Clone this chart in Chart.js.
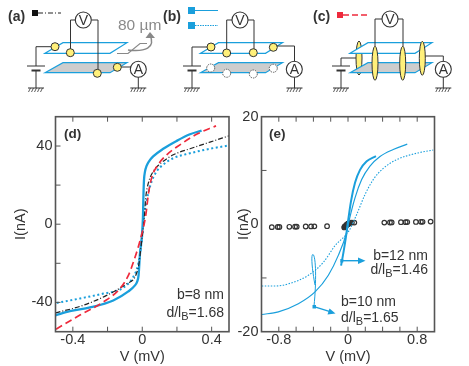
<!DOCTYPE html>
<html>
<head>
<meta charset="utf-8">
<script src="https://cdn.jsdelivr.net/npm/chart.js@4"></script>
<style>
  html, body { margin: 0; padding: 0; background: #fff; overflow: hidden; }
  body { width: 469px; height: 366px; position: relative; }
  canvas { position: absolute; }
  #chartD { left: 0; top: 105px; }
  #chartE { left: 235px; top: 105px; }
  svg { position: absolute; left: 0; top: 0; pointer-events: none; font-family: "Liberation Sans", Arial, sans-serif; }
</style>
</head>
<body>
<canvas id="chartD" width="235" height="261"></canvas>
<canvas id="chartE" width="234" height="261"></canvas>
<svg id="overlay" width="469" height="366"></svg>
<script>
// Panel (d) curves
const dSolidV = [-0.5, -0.417, -0.301, -0.167, -0.08, -0.042, -0.03, -0.021, -0.013, -0.003, 0.004, 0.007, 0.01, 0.016, 0.025, 0.04, 0.063, 0.121, 0.198, 0.275, 0.342];
const dSolidI = [-46.6, -44.5, -42.6, -39, -34.4, -31.3, -29.5, -26, -15, -6.8, 3.4, 15.2, 22.5, 27, 29.8, 32.3, 34.7, 38.6, 42.6, 46, 47.9];
const dDashDotV = [-0.5, -0.34, -0.205, -0.09, -0.042, -0.019, -0.0075, 0.012, 0.02, 0.035, 0.063, 0.102, 0.179, 0.275, 0.39, 0.5];
const dDashDotI = [-45.4, -41.5, -36.4, -30.5, -27, -20.3, -11.9, 3.4, 13.5, 21, 27, 30.8, 35.5, 38.6, 42, 45.2];
const dDottedV = [-0.493, -0.359, -0.225, -0.119, -0.052, -0.023, -0.003, 0.01, 0.025, 0.048, 0.083, 0.121, 0.179, 0.275, 0.39, 0.5];
const dDottedI = [-40.3, -38, -35.5, -33, -27, -20.3, -8.5, 3.4, 11.8, 20.3, 27, 30.5, 33.8, 36.3, 38.6, 40.3];
const dDashedV = [-0.497, -0.359, -0.225, -0.129, -0.08, -0.042, -0.013, 0.021, 0.035, 0.054, 0.092, 0.141, 0.217, 0.313, 0.425];
const dDashedI = [-53.7, -46.5, -39.8, -33, -26.2, -17, -8.5, 5, 15.2, 23.7, 30.5, 35.5, 40.6, 46, 50.3];

// Panel (e) curves
const eThickV = [-0.08, -0.05, -0.025, 0, 0.035, 0.081, 0.139, 0.216, 0.323];
const eThickI = [-7.7, -5, -2.5, 0.5, 4.3, 7.7, 10.1, 11.7, 12.66];
const eThinV = [-0.997, -0.805, -0.574, -0.381, -0.227, -0.112, -0.015, 0.012, 0.081, 0.158, 0.254, 0.37, 0.523, 0.685];
const eThinI = [-16.8, -16.3, -14.8, -12.6, -9.5, -5.8, -1.5, 0.6, 4.9, 8.3, 10.8, 12.6, 13.9, 14.9];
const eDottedV = [-0.997, -0.843, -0.689, -0.458, -0.285, -0.15, 0.012, 0.1, 0.196, 0.292, 0.408, 0.562, 0.793, 0.985];
const eDottedI = [-11.5, -11.5, -11.1, -9.5, -7.1, -4, -1.2, 1.8, 5.5, 8.3, 10.4, 12, 13.2, 13.8];
const eCircleV = [-0.881, -0.812, -0.793, -0.678, -0.612, -0.593, -0.489, -0.427, -0.389, -0.242,
  -0.043, -0.04, -0.035, -0.03, -0.025, -0.02, -0.015, -0.01, -0.005, 0, 0.005, 0.01, 0.015, 0.023, 0.045, 0.073,
  0.42, 0.485, 0.505, 0.612, 0.666, 0.685, 0.785, 0.843, 0.862, 0.955];
const eCircleI = [-0.55, -0.52, -0.52, -0.48, -0.46, -0.46, -0.43, -0.41, -0.4, -0.37,
  -0.6, -0.5, -0.4, -0.35, -0.3, -0.2, -0.1, -0.05, 0, 0.05, 0.1, 0.15, 0.2, 0.3, 0.3, 0.3,
  0.3, 0.32, 0.33, 0.37, 0.38, 0.4, 0.42, 0.45, 0.45, 0.48];

// Ticks and labels
const dXTicks = [-0.4, -0.2, 0, 0.2, 0.4];
const dXLabels = ['-0.4', '', '0', '', '0.4'];
const dYTicks = [-40, -20, 0, 20, 40];
const dYLabels = ['-40', '', '0', '', '40'];
const eXTicks = [-0.8, -0.6, -0.4, -0.2, 0, 0.2, 0.4, 0.6, 0.8];
const eXLabels = ['-0.8', '', '', '', '0', '', '', '', '0.8'];
const eYTicks = [-20, -10, 0, 10, 20];
const eYLabels = ['-20', '', '0', '', '20'];

const BLUE = '#1a9fdc', RED = '#ee2a3c', INK = '#333', FRAME = '#555';
const FONT = '"Liberation Sans", Arial, sans-serif';

const pts = (xs, ys) => xs.map((x, i) => ({x: x, y: ys[i]}));

// inward ticks and the frame, placed through the scales
const frameTicks = {
  id: 'frameTicks',
  afterDraw(chart) {
    const {ctx, chartArea: a, scales} = chart;
    ctx.save();
    ctx.strokeStyle = FRAME;
    ctx.lineWidth = 1;
    ctx.beginPath();
    scales.x.ticks.forEach(t => {
      const px = scales.x.getPixelForValue(t.value);
      ctx.moveTo(px, a.bottom); ctx.lineTo(px, a.bottom - 5);
      ctx.moveTo(px, a.top); ctx.lineTo(px, a.top + 5);
    });
    scales.y.ticks.forEach(t => {
      if (t.value === scales.y.max || t.value === scales.y.min || t.value === 0 && chart.canvas.id === 'chartE') return;
      const py = scales.y.getPixelForValue(t.value);
      ctx.moveTo(a.left, py); ctx.lineTo(a.left + 5, py);
    });
    ctx.stroke();
    ctx.lineWidth = 1.6;
    ctx.strokeRect(a.left, a.top, a.right - a.left, a.bottom - a.top);
    ctx.restore();
  }
};

function makeChart(id, datasets, o) {
  return new Chart(document.getElementById(id), {
    type: 'scatter',
    data: {datasets: datasets},
    plugins: [frameTicks],
    options: {
      responsive: false,
      animation: false,
      layout: {padding: {top: 10, right: o.right, left: 0, bottom: 0}},
      plugins: {legend: {display: false}, tooltip: {enabled: false}},
      scales: {
        x: {
          type: 'linear', min: o.xMin, max: o.xMax,
          grid: {display: false, drawTicks: false}, border: {display: false},
          afterBuildTicks: s => { s.ticks = o.xTicks.map(v => ({value: v})); },
          afterFit: s => { s.height = 34.3; },
          ticks: {
            autoSkip: false, maxRotation: 0, padding: 0, color: INK, font: {family: FONT, size: 14.5},
            callback: v => o.xLabels[o.xTicks.indexOf(v)]
          },
          title: {display: true, text: 'V (mV)', color: INK, font: {family: FONT, size: 14.5}, padding: {top: 4, bottom: 0}}
        },
        y: {
          type: 'linear', min: o.yMin, max: o.yMax,
          grid: {display: false, drawTicks: false}, border: {display: false},
          afterBuildTicks: s => { s.ticks = o.yTicks.map(v => ({value: v})); },
          afterFit: s => { s.width = o.axisW; },
          ticks: {
            autoSkip: false, padding: 3, color: INK, font: {family: FONT, size: 14.5},
            callback: v => o.yLabels[o.yTicks.indexOf(v)]
          },
          title: {display: true, text: 'I(nA)', color: INK, font: {family: FONT, size: 14.5}, padding: {top: o.titlePad, bottom: 0}}
        }
      }
    }
  });
}

const line = (xs, ys, color, width, dash) => ({
  data: pts(xs, ys), showLine: true, pointRadius: 0, borderColor: color, borderWidth: width,
  borderDash: dash || [], cubicInterpolationMode: 'monotone', fill: false
});

makeChart('chartD', [
  line(dDashedV, dDashedI, RED, 1.7, [7, 4]),
  line(dDashDotV, dDashDotI, '#222', 1.2, [5, 2, 1, 2]),
  line(dSolidV, dSolidI, BLUE, 2.3),
  line(dDottedV, dDottedI, BLUE, 2, [2, 2.6])
], {xMin: -0.5, xMax: 0.5, yMin: -55, yMax: 55, xTicks: dXTicks, xLabels: dXLabels, yTicks: dYTicks, yLabels: dYLabels, axisW: 55.5, right: 6, titlePad: 12.5});

makeChart('chartE', [
  line(eThickV, eThickI, BLUE, 2),
  line(eThinV, eThinI, BLUE, 1.2),
  line(eDottedV, eDottedI, BLUE, 1.1, [1.5, 1.5]),
  {data: pts(eCircleV, eCircleI), pointRadius: 2.3, pointBorderWidth: 1.2, pointBorderColor: '#333', pointBackgroundColor: 'rgba(255,255,255,0)'}
], {xMin: -1, xMax: 1, yMin: -20, yMax: 20, xTicks: eXTicks, xLabels: eXLabels, yTicks: eYTicks, yLabels: eYLabels, axisW: 26.5, right: 34.5, titlePad: 0});

// Circuit sketches and annotations
const YEL = '#fff07a', WIRE = '#333';
let s = '';
const path = (d, stroke, w, extra) => `<path d="${d}" fill="none" stroke="${stroke}" stroke-width="${w}" ${extra || ''}/>`;
const txt = (x, y, str, size, extra) => `<text x="${x}" y="${y}" font-size="${size}" fill="${INK}" ${extra || ''}>${str}</text>`;
const dot = (x, y) => `<circle cx="${x}" cy="${y}" r="4" fill="${YEL}" stroke="${WIRE}" stroke-width="1"/>`;
const ghost = (x, y) => `<circle cx="${x}" cy="${y}" r="4" fill="#fff" stroke="#555" stroke-width="1" stroke-dasharray="1.5 1"/>`;
const oval = (x, y) => `<ellipse cx="${x}" cy="${y}" rx="3" ry="17" fill="${YEL}" stroke="${WIRE}" stroke-width="1"/>`;
const meter = (x, y, c) => `<circle cx="${x}" cy="${y}" r="8" fill="#fff" stroke="${WIRE}" stroke-width="1.1"/>` +
  txt(x, y + 5, c, 14, 'text-anchor="middle"');
function plates(x) {
  return `<path d="M${x} 53.3 L${x + 18} 42.7 H${x + 82} L${x + 65} 53.3 Z" fill="#fff" stroke="${BLUE}" stroke-width="1.2"/>` +
    `<path d="M${x} 72.7 L${x + 18} 62.7 H${x + 82} L${x + 65} 72.7 Z" fill="#cdcdcd" stroke="${BLUE}" stroke-width="1.2"/>`;
}
function ground(x) {
  let g = path(`M${x - 8} 88 H${x + 8}`, WIRE, 1);
  for (let i = -7; i <= 6; i += 3) g += path(`M${x + i + 1.5} 88 L${x + i - 0.5} 92`, WIRE, 0.8);
  return g;
}
function battery(x, yTop) {
  return path(`M${x} ${yTop} V66 M${x} 70 V88`, WIRE, 1) + path(`M${x - 9} 66 H${x + 9}`, WIRE, 1) +
    path(`M${x - 4.5} 70.5 H${x + 4.5}`, WIRE, 2) + ground(x);
}

// (a)
s += txt(8, 21, '(a)', 14, 'font-weight="bold"');
s += `<rect x="32" y="10" width="6" height="6" fill="#111"/>` + path('M38 13 H61', '#222', 1, 'stroke-dasharray="5 2 1 2"');
s += plates(45);
s += path('M55 46.7 H36', WIRE, 1) + battery(36, 46.7);
s += path('M75 20 H70.5 V52.7 M91.5 20 H98 V73', WIRE, 1) + path('M117 67 H138.3 V88', WIRE, 1) + ground(138.3);
s += dot(55, 46.7) + dot(70.3, 52.7) + dot(97.3, 73.3) + dot(117.3, 67.3);
s += meter(83.3, 20, 'V') + meter(138.3, 69.3, 'A');
s += `<text x="118" y="30" font-size="15.5" fill="#8a8a8a">80 µm</text>`;
s += path('M117 53.5 H128 L140 43.5 H147', '#888', 1.2);
s += path('M128 50 C145 52 156 48 150 35', '#888', 1.5) + '<path d="M150 32 L145.5 38 L155 38 Z" fill="#888"/>';

// (b)
s += txt(163, 21, '(b)', 14, 'font-weight="bold"');
s += `<rect x="188" y="7" width="7" height="7" fill="${BLUE}"/>` + path('M195 10.5 H218', BLUE, 1);
s += `<rect x="188" y="22" width="7" height="7" fill="${BLUE}"/>` + path('M195 25.5 H218', BLUE, 1, 'stroke-dasharray="1.5 1"');
s += plates(200.5);
s += path('M211 47 H192', WIRE, 1) + battery(192, 47);
s += path('M232 20 H226.7 V53 M248 20 H254 V53', WIRE, 1) + path('M273 46 H294.5 V88', WIRE, 1) + ground(294.5);
s += dot(211, 47) + dot(226.7, 53) + dot(253.3, 52.7) + dot(273.3, 47.3);
s += ghost(210.7, 68) + ghost(226.7, 73.3) + ghost(253.3, 74) + ghost(273.3, 68.3);
s += meter(240, 20, 'V') + meter(294.3, 69.3, 'A');

// (c)
s += txt(313, 21, '(c)', 14, 'font-weight="bold"');
s += `<rect x="337" y="12" width="6" height="6" fill="${RED}"/>` + path('M343 15 H368', RED, 1.3, 'stroke-dasharray="6 3"');
s += oval(359, 58);
s += plates(350);
s += path('M356 58 H341', WIRE, 1) + battery(341, 58);
s += path('M382 19 H375 V50 M398 19 H403 V50', WIRE, 1) + path('M425 56 H443.3 V88', WIRE, 1) + ground(443.3);
s += oval(375, 63.3) + oval(402.7, 63.3) + oval(422.3, 58.3);
s += meter(390, 19, 'V') + meter(443.3, 69.3, 'A');

// panel labels and notes
const sub = (a, b) => `${a}<tspan font-size="11" dy="3">B</tspan><tspan dy="-3">${b}</tspan>`;
s += txt(64, 138, '(d)', 13.5, 'font-weight="bold"');
s += txt(269, 138, '(e)', 13.5, 'font-weight="bold"');
s += txt(224, 299, 'b=8 nm', 14, 'text-anchor="end"');
s += txt(224, 317, sub('d/l', '=1.68'), 14, 'text-anchor="end"');
s += txt(428, 260, 'b=12 nm', 14, 'text-anchor="end"');
s += txt(428, 274, sub('d/l', '=1.46'), 14, 'text-anchor="end"');
s += txt(341, 306, 'b=10 nm', 14);
s += txt(341, 322, sub('d/l', '=1.65'), 14);

// arrows
s += `<rect x="340.3" y="259" width="3" height="3.5" fill="${BLUE}"/>` + path('M342 260.7 H360', BLUE, 1.4);
s += `<path d="M365.5 260.7 L358 257.5 V264 Z" fill="${BLUE}"/>`;
s += path('M314 306 C316.5 282 316 256 313 254.5 C310.5 254 312.5 272 315 285', BLUE, 1);
s += `<rect x="312.5" y="305" width="3.5" height="3.5" fill="${BLUE}"/>` + path('M314 306.7 L330 311.7', BLUE, 1.4);
s += `<path d="M335.5 313.5 L327.5 314.5 L329.5 308.5 Z" fill="${BLUE}"/>`;

document.getElementById('overlay').innerHTML = s;
</script>
</body>
</html>
